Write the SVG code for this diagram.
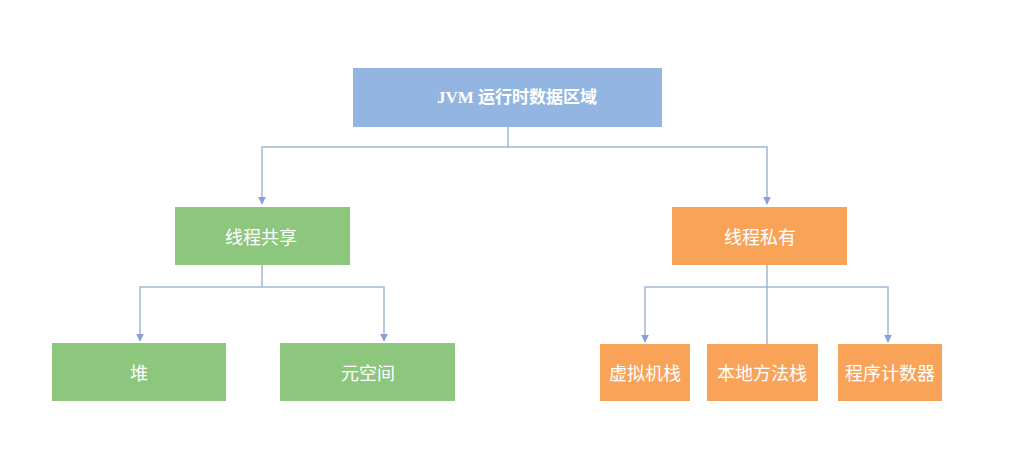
<svg xmlns="http://www.w3.org/2000/svg" width="1033" height="467" viewBox="0 0 1033 467">
<style>
.blue{fill:#93b5e1}
.green{fill:#8dc67d}
.orange{fill:#f9a359}
.lbl{fill:#ffffff;font-family:"Noto Sans CJK SC","Noto Sans",sans-serif;font-size:18px;text-anchor:middle;dominant-baseline:central}
.title{font-family:"Liberation Serif","Noto Sans CJK SC",serif;font-size:17px;font-weight:bold}
.ln{fill:none;stroke:#a3b6d8;stroke-width:1.5}
</style>
<defs>
<marker id="arr" viewBox="0 0 10 10" refX="9" refY="5" markerWidth="8" markerHeight="8" markerUnits="userSpaceOnUse" orient="auto">
<path d="M0,0 L10,5 L0,10 z" fill="#8a9fd8"/>
</marker>
</defs>
<rect width="1033" height="467" fill="#ffffff"/>
<g id="connectors">
<path class="ln" d="M508,127 V147 H262 V204" marker-end="url(#arr)"/>
<path class="ln" d="M508,147 H767 V204" marker-end="url(#arr)"/>
<path class="ln" d="M262,265 V287 H140 V341" marker-end="url(#arr)"/>
<path class="ln" d="M262,287 H384 V341" marker-end="url(#arr)"/>
<path class="ln" d="M767,265 V287 H645 V342" marker-end="url(#arr)"/>
<path class="ln" d="M767,287 H888 V342" marker-end="url(#arr)"/>
<path class="ln" d="M767,287 V344"/>
</g>
<g id="jvm">
<rect class="blue" x="353" y="68" width="309" height="59"/>
<text class="lbl title" x="517" y="97">JVM 运行时数据区域</text>
</g>
<g id="shared">
<rect class="green" x="175" y="207" width="175" height="58"/>
<text class="lbl" x="261" y="236">线程共享</text>
</g>
<g id="private">
<rect class="orange" x="672" y="207" width="175" height="58"/>
<text class="lbl" x="760" y="236">线程私有</text>
</g>
<g id="heap">
<rect class="green" x="52" y="343" width="174" height="58"/>
<text class="lbl" x="139" y="372">堆</text>
</g>
<g id="metaspace">
<rect class="green" x="280" y="343" width="175" height="58"/>
<text class="lbl" x="368" y="372">元空间</text>
</g>
<g id="vmstack">
<rect class="orange" x="600" y="344" width="90" height="57"/>
<text class="lbl" x="645" y="372">虚拟机栈</text>
</g>
<g id="nativestack">
<rect class="orange" x="707" y="344" width="111" height="57"/>
<text class="lbl" x="762" y="372">本地方法栈</text>
</g>
<g id="pc">
<rect class="orange" x="838" y="344" width="104" height="57"/>
<text class="lbl" x="890" y="372">程序计数器</text>
</g>
</svg>
